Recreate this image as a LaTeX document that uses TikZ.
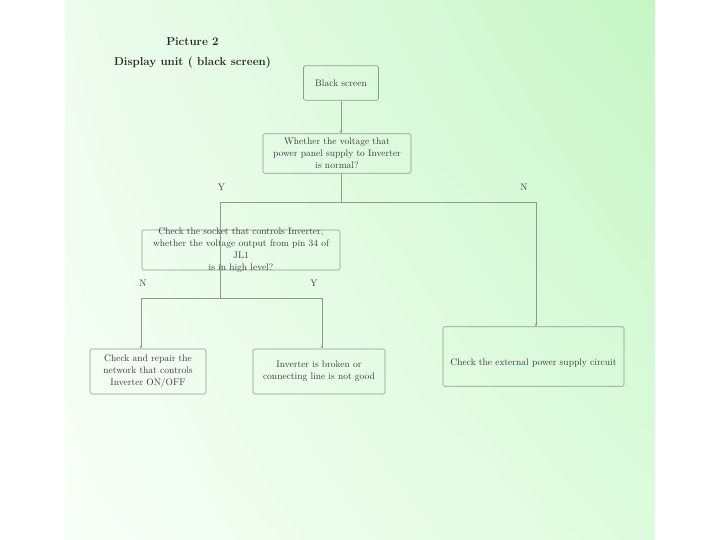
\documentclass[tikz,border=0pt]{standalone}
\usetikzlibrary{arrows.meta,calc,shadings}
\definecolor{linec}{HTML}{8A9E8A}
\definecolor{txtc}{HTML}{3A3A3A}
\definecolor{bgUL}{HTML}{EEFCEE}
\definecolor{bgUR}{HTML}{C6F6C6}
\definecolor{bgLL}{HTML}{F8FFF8}
\definecolor{bgLR}{HTML}{DEFBDE}
\tikzset{
  box/.style={draw=linec, line width=0.6pt, rounded corners=1.5pt, inner sep=2pt},
  txt/.style={text=txtc, font=\fontsize{9.5}{12}\selectfont, align=center, inner sep=0pt},
  lbl/.style={text=txtc, font=\fontsize{9.5}{12}\selectfont, inner sep=0pt},
  conn/.style={draw=linec, line width=0.6pt},
  arr/.style={conn, -{Stealth[length=3pt,width=2.5pt]}},
  ttl/.style={text=black!85, font=\fontsize{11.5}{14}\selectfont\bfseries, inner sep=0pt}
}
\begin{document}
\begin{tikzpicture}[x=1pt,y=-1pt]
\useasboundingbox (0,0) rectangle (720,540);
\fill[white] (0,0) rectangle (720,540);
\shade[upper left=bgUL, upper right=bgUR, lower left=bgLL, lower right=bgLR] (65,0) rectangle (655,540);

\node[ttl] (t1) at (192.5,42) {Picture 2};
\node[ttl] (t2) at (192.5,62.5) {Display unit ( black screen)};

\node[box, minimum width=75, minimum height=34.5] (b0) at (341,83) {};
\node[txt] (b0t) at (b0) {Black screen};

\node[box, minimum width=148, minimum height=39.5] (q1) at (337,153.5) {};
\node[txt] (q1t) at (q1) {Whether the voltage that\\power panel supply to Inverter\\is normal?};

\node[box, minimum width=198, minimum height=40] (q2) at (241,250) {};
\node[txt] (q2t) at (241,250.5) {Check the socket that controls Inverter,\\whether the voltage output from pin 34 of\\JL1\\is in high level?};

\node[box, minimum width=181, minimum height=59.5] (e1) at (533.5,356.5) {};
\node[txt] (e1t) at (533.5,363) {Check the external power supply circuit};

\node[box, minimum width=116, minimum height=45] (a1) at (148,371.5) {};
\node[txt] (a1t) at (a1) {Check and repair the\\network that controls\\Inverter ON/OFF};

\node[box, minimum width=132, minimum height=45] (a2) at (319,371.5) {};
\node[txt] (a2t) at (a2) {Inverter is broken or\\connecting line is not good};

\node[lbl] (y1) at (221.5,187) {Y};
\node[lbl] (n1) at (524,187) {N};
\node[lbl] (n2) at (143,283.5) {N};
\node[lbl] (y2) at (314,283.5) {Y};

\coordinate (j1) at (341,202);
\coordinate (j2) at (220.5,298);

\draw[arr] (b0.south) -- (b0.south |- q1.north);
\draw[conn] (b0.south |- q1.south) -- (j1);
\draw[conn] (j1) -| (j2);
\draw[arr] (j1) -| ([xshift=2.5pt]e1.north);
\draw[arr] (j2) -| ([xshift=-7pt]a1.north);
\draw[arr] (j2) -| ([xshift=3pt]a2.north);
\end{tikzpicture}
\end{document}
